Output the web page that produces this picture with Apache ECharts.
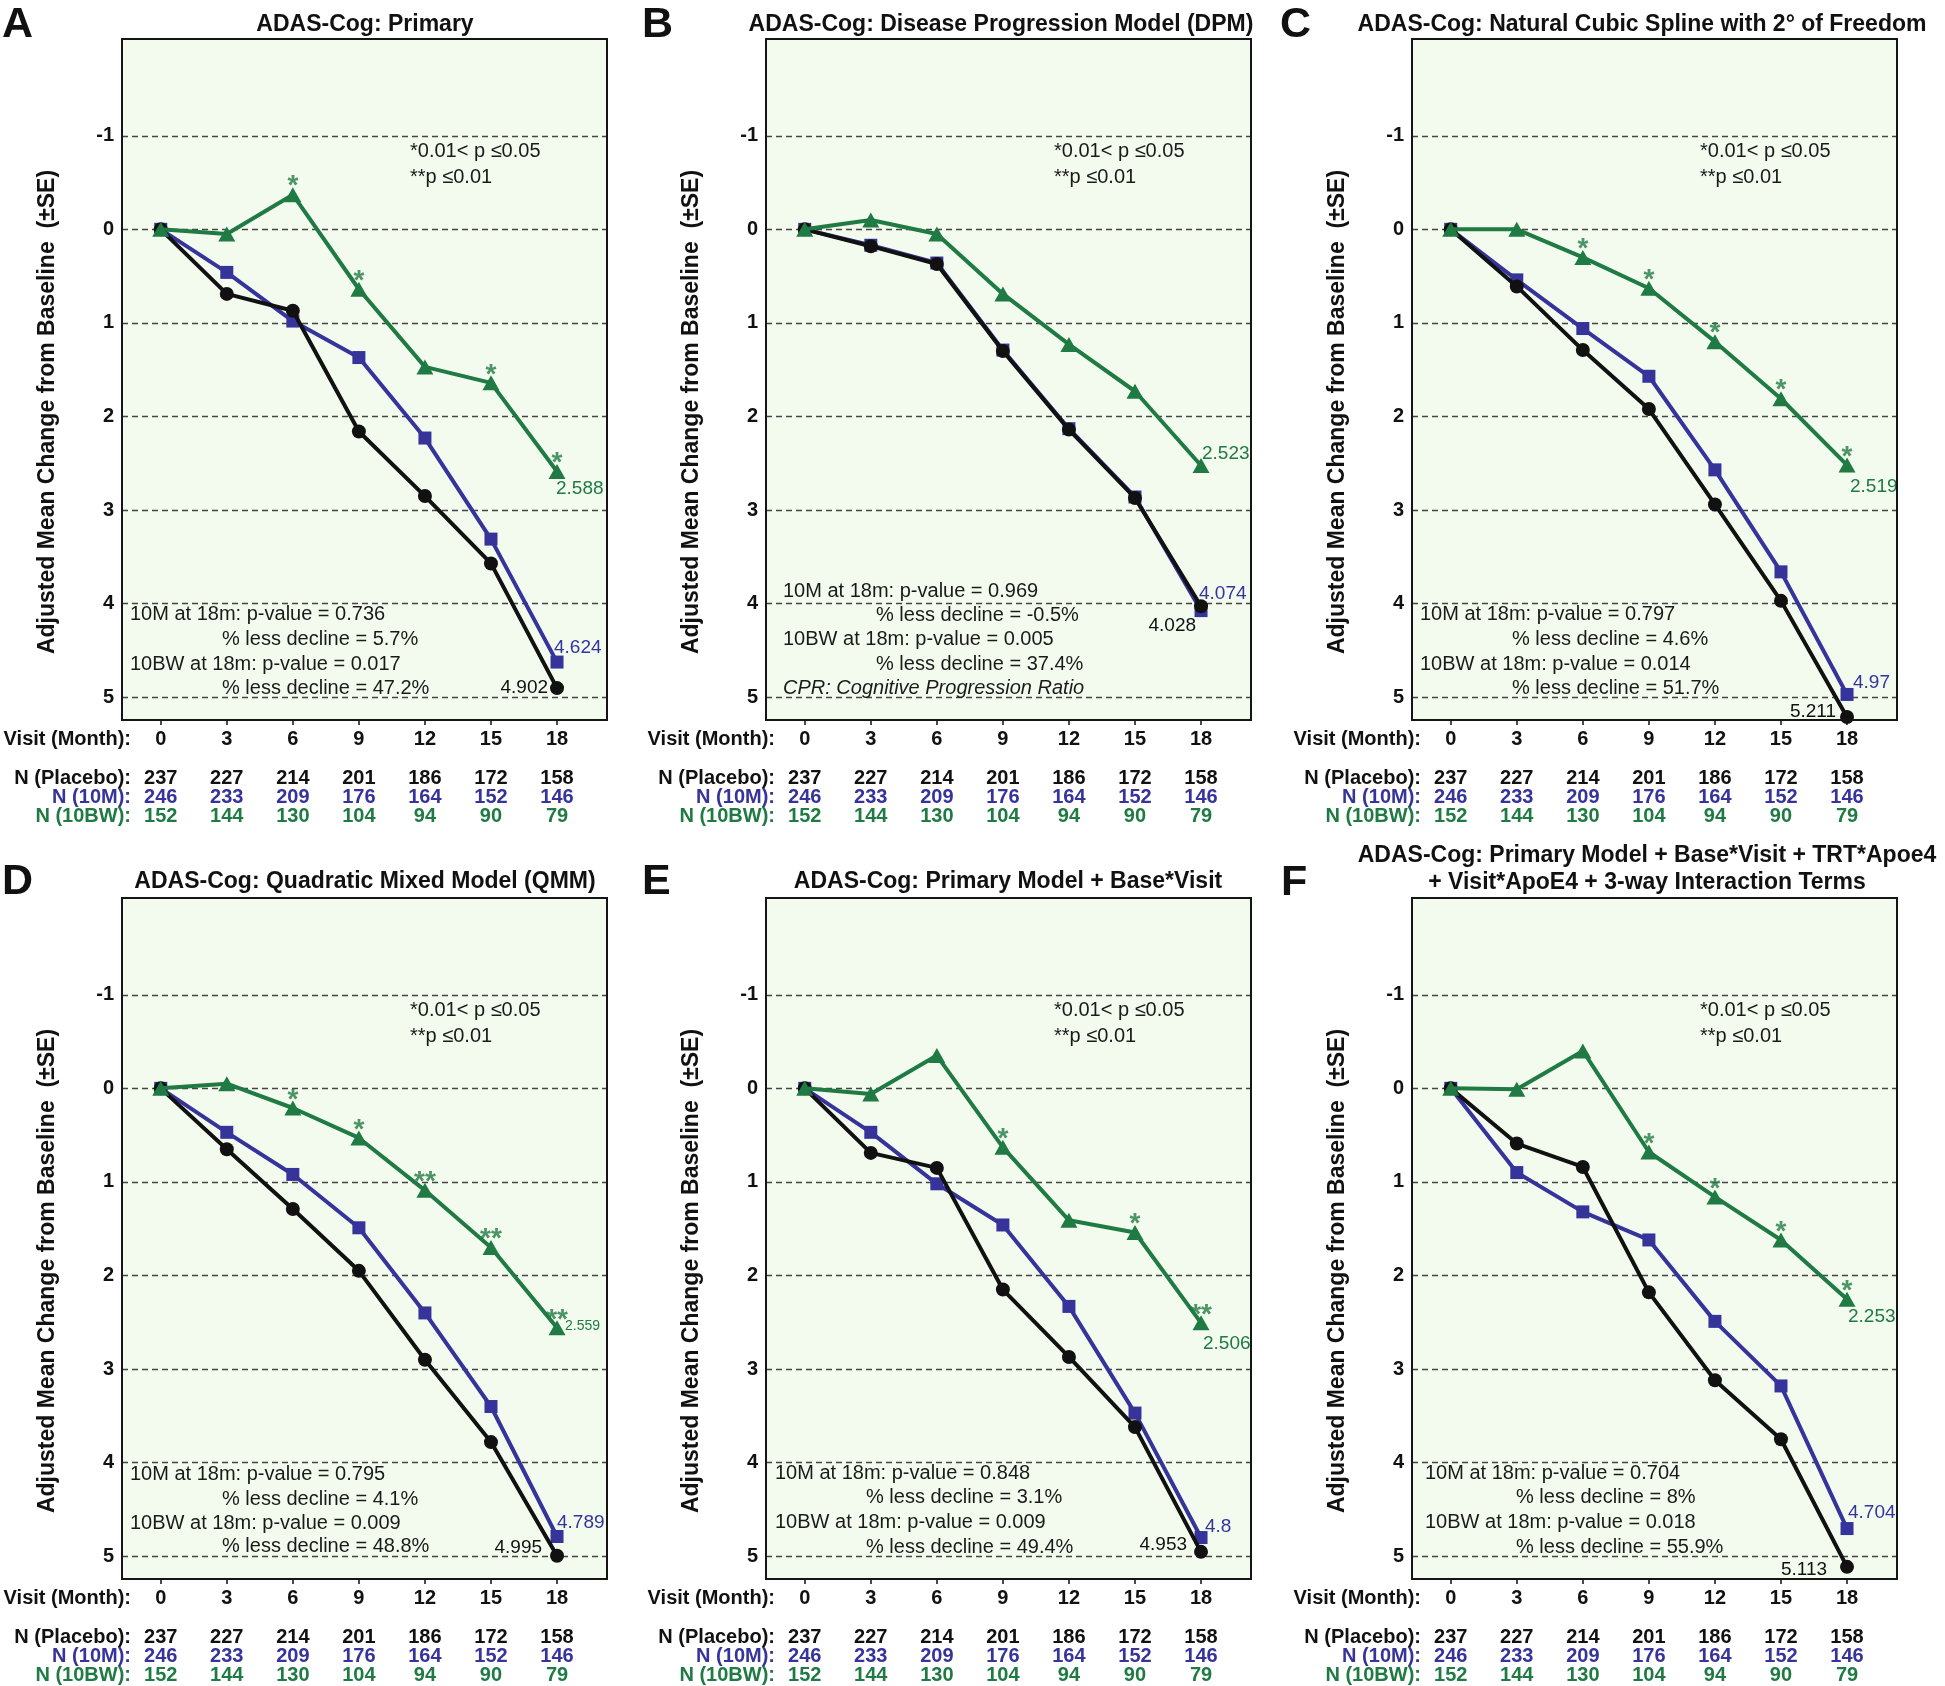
<!DOCTYPE html>
<html><head><meta charset="utf-8">
<script src="https://cdn.jsdelivr.net/npm/echarts@6/dist/echarts.min.js"></script>
<style>html,body{margin:0;padding:0;background:#fff}#c{width:1945px;height:1686px}</style>
</head><body><div id="c"></div>
<script>
// ---------------- DATA ----------------
const months = [0, 3, 6, 9, 12, 15, 18];
const yTicks = [-1, 0, 1, 2, 3, 4, 5];
const nPlacebo = [237, 227, 214, 201, 186, 172, 158];
const n10M = [246, 233, 209, 176, 164, 152, 146];
const n10BW = [152, 144, 130, 104, 94, 90, 79];

const placeboA = [0, 0.69, 0.87, 2.16, 2.85, 3.57, 4.902];
const m10A     = [0, 0.46, 0.98, 1.37, 2.23, 3.31, 4.624];
const bw10A    = [0, 0.05, -0.37, 0.64, 1.47, 1.64, 2.588];
const starsA   = ['', '', '*', '*', '', '*', '*'];

const placeboB = [0, 0.18, 0.37, 1.30, 2.14, 2.87, 4.028];
const m10B     = [0, 0.17, 0.36, 1.29, 2.13, 2.86, 4.074];
const bw10B    = [0, -0.10, 0.05, 0.69, 1.23, 1.73, 2.523];
const starsB   = ['', '', '', '', '', '', ''];

const placeboC = [0, 0.61, 1.29, 1.92, 2.94, 3.97, 5.211];
const m10C     = [0, 0.54, 1.06, 1.57, 2.57, 3.66, 4.97];
const bw10C    = [0, 0.0, 0.30, 0.63, 1.20, 1.81, 2.519];
const starsC   = ['', '', '*', '*', '*', '*', '*'];

const placeboD = [0, 0.65, 1.29, 1.95, 2.90, 3.78, 4.995];
const m10D     = [0, 0.47, 0.92, 1.49, 2.40, 3.40, 4.789];
const bw10D    = [0, -0.05, 0.21, 0.53, 1.09, 1.70, 2.559];
const starsD   = ['', '', '*', '*', '**', '**', '**'];

const placeboE = [0, 0.69, 0.85, 2.15, 2.87, 3.62, 4.953];
const m10E     = [0, 0.47, 1.02, 1.46, 2.33, 3.47, 4.8];
const bw10E    = [0, 0.06, -0.35, 0.63, 1.41, 1.54, 2.506];
const starsE   = ['', '', '', '*', '', '*', '**'];

const placeboF = [0, 0.59, 0.84, 2.18, 3.12, 3.75, 5.113];
const m10F     = [0, 0.90, 1.32, 1.62, 2.49, 3.18, 4.704];
const bw10F    = [0, 0.01, -0.40, 0.68, 1.16, 1.62, 2.253];
const starsF   = ['', '', '', '*', '*', '*', '*'];

const titleA = ['ADAS-Cog: Primary'];
const titleB = ['ADAS-Cog: Disease Progression Model (DPM)'];
const titleC = ['ADAS-Cog: Natural Cubic Spline with 2° of Freedom'];
const titleD = ['ADAS-Cog: Quadratic Mixed Model (QMM)'];
const titleE = ['ADAS-Cog: Primary Model + Base*Visit'];
const titleF = ['ADAS-Cog: Primary Model + Base*Visit + TRT*Apoe4', '+ Visit*ApoE4 + 3-way Interaction Terms'];

const notesA = ['10M at 18m: p-value = 0.736', '% less decline = 5.7%', '10BW at 18m: p-value = 0.017', '% less decline = 47.2%'];
const notesB = ['10M at 18m: p-value = 0.969', '% less decline = -0.5%', '10BW at 18m: p-value = 0.005', '% less decline = 37.4%', 'CPR: Cognitive Progression Ratio'];
const notesC = ['10M at 18m: p-value = 0.797', '% less decline = 4.6%', '10BW at 18m: p-value = 0.014', '% less decline = 51.7%'];
const notesD = ['10M at 18m: p-value = 0.795', '% less decline = 4.1%', '10BW at 18m: p-value = 0.009', '% less decline = 48.8%'];
const notesE = ['10M at 18m: p-value = 0.848', '% less decline = 3.1%', '10BW at 18m: p-value = 0.009', '% less decline = 49.4%'];
const notesF = ['10M at 18m: p-value = 0.704', '% less decline = 8%', '10BW at 18m: p-value = 0.018', '% less decline = 55.9%'];

const sigLegend = ['*0.01< p \u22640.05', '**p \u22640.01'];
const yName = 'Adjusted Mean Change from Baseline  (\u00b1SE)';
const rowHeaders = ['Visit (Month):', 'N (Placebo):', 'N (10M):', 'N (10BW):'];

// ---------------- STYLE / LAYOUT ----------------
const FONT = '"Liberation Sans", Arial, Helvetica, sans-serif';
const C_PL = '#111111', C_M = '#36339b', C_BW = '#1f7a43';
const BG = '#f3fbee';
const colLeft = [122, 766, 1412];
const rowTop = [39, 898];
const PW = 485, PH = 681;
const X_MIN = -1.76, X_MAX = 20.27, Y_MIN = -2.034, Y_MAX = 5.243;

const panels = [
  {letter:'A', col:0, row:0, title:titleA, titleX:365, titleY:[25], letterX:2,
   pl:placeboA, m:m10A, bw:bw10A, stars:starsA, notes:notesA, noteX:8, indentX:100, noteY:[575,600,625,649],
   lab:{bw:['left',-1,17.6,19], m:['left',-3,-14,19], pl:['right',-9,0,19]}},
  {letter:'B', col:1, row:0, title:titleB, titleX:1001, titleY:[25], letterX:642,
   pl:placeboB, m:m10B, bw:bw10B, stars:starsB, notes:notesB, noteX:17, indentX:110, noteY:[552,576,600,625,649],
   lab:{bw:['left',1,-12,19], m:['left',-2,-17,19], pl:['right',-5,19,19]}},
  {letter:'C', col:2, row:0, title:titleC, titleX:1642, titleY:[25], letterX:1280,
   pl:placeboC, m:m10C, bw:bw10C, stars:starsC, notes:notesC, noteX:8, indentX:100, noteY:[575,600,625,649],
   lab:{bw:['left',3,22,19], m:['left',6,-12,19], pl:['right',-11,-5,19]}},
  {letter:'D', col:0, row:1, title:titleD, titleX:365, titleY:[882], letterX:2,
   pl:placeboD, m:m10D, bw:bw10D, stars:starsD, notes:notesD, noteX:8, indentX:100, noteY:[576,601,625,648],
   lab:{bw:['left',8,-2,14], m:['left',0,-14,19], pl:['right',-15,-8,19]}},
  {letter:'E', col:1, row:1, title:titleE, titleX:1008, titleY:[882], letterX:642,
   pl:placeboE, m:m10E, bw:bw10E, stars:starsE, notes:notesE, noteX:9, indentX:100, noteY:[575,599,624,649],
   lab:{bw:['left',2,21,19], m:['left',4,-11,19], pl:['right',-14,-7,19]}},
  {letter:'F', col:2, row:1, title:titleF, titleX:1647, titleY:[856,883], letterX:1281,
   pl:placeboF, m:m10F, bw:bw10F, stars:starsF, notes:notesF, noteX:13, indentX:104, noteY:[575,599,624,649],
   lab:{bw:['left',1,17.5,19], m:['left',1,-16,19], pl:['right',-20,2.5,19]}}
];

const nRows = [
  {vals:nPlacebo, color:C_PL, offset:39},
  {vals:n10M, color:C_M, offset:58},
  {vals:n10BW, color:C_BW, offset:77}
];
const headerDy = [19, 58, 77, 96];
const headerColors = [C_PL, C_PL, C_M, C_BW];

function txt(x, y, text, opts) {
  opts = opts || {};
  return {type:'text', x:x, y:y, rotation: opts.rotation || 0, z: 50, silent:true,
    style:{text:text, fill: opts.color || '#1a1a1a',
      font: (opts.style || 'normal') + ' ' + (opts.weight || 'normal') + ' ' + (opts.size || 20) + 'px ' + FONT,
      align: opts.align || 'left', verticalAlign: 'middle'}};
}

function mkData(vals, lab, color) {
  const last = vals.length - 1;
  return vals.map((v, i) => i === last ? {
    value:[months[i], v],
    label:{show:true, formatter:String(v), position:'inside', align:lab[0], verticalAlign:'middle',
           offset:[lab[1], lab[2]], color:color, fontSize:lab[3], fontFamily:FONT}
  } : [months[i], v]);
}

const option = {animation:false, grid:[], xAxis:[], yAxis:[], series:[], graphic:[]};

panels.forEach((p, g) => {
  const left = colLeft[p.col], top = rowTop[p.row], bottom = top + PH;
  option.grid.push({left:left, top:top, width:PW, height:PH, show:true, backgroundColor:BG,
    borderWidth:0, containLabel:false, outerBoundsMode:'none'});
  option.xAxis.push({type:'value', gridIndex:g, min:X_MIN, max:X_MAX, position:'bottom',
    axisLine:{show:false, onZero:false}, splitLine:{show:false},
    axisTick:{show:true, customValues:months, length:5, lineStyle:{color:'#111', width:1.5}},
    axisLabel:{customValues:months, color:'#111', fontSize:20, fontWeight:'bold', fontFamily:FONT, margin:9}});
  nRows.forEach(r => option.xAxis.push({type:'value', gridIndex:g, min:X_MIN, max:X_MAX, position:'bottom',
    offset:r.offset, axisLine:{show:false, onZero:false}, splitLine:{show:false}, axisTick:{show:false},
    axisLabel:{customValues:months, formatter:(v) => String(r.vals[months.indexOf(v)]),
      color:r.color, fontSize:20, fontWeight:'bold', fontFamily:FONT, margin:9}}));
  option.yAxis.push({type:'value', gridIndex:g, inverse:true, min:Y_MIN, max:Y_MAX,
    axisLine:{show:false, onZero:false}, axisTick:{show:false, customValues:yTicks},
    splitLine:{show:true, lineStyle:{color:'#444444', width:1.4, type:[6,4]}},
    axisLabel:{customValues:yTicks, formatter:(v) => String(v), color:'#111',
      fontSize:20, fontWeight:'bold', fontFamily:FONT, margin:8}});

  const xi = 4 * g;
  const common = {xAxisIndex:xi, yAxisIndex:g, silent:true, emphasis:{disabled:true}, showSymbol:true, label:{show:false}};
  option.series.push(Object.assign({type:'line', name:'10M', data:mkData(p.m, p.lab.m, C_M),
    symbol:'rect', symbolSize:13, lineStyle:{color:C_M, width:4}, itemStyle:{color:C_M}, z:2}, common));
  option.series.push(Object.assign({type:'line', name:'Placebo', data:mkData(p.pl, p.lab.pl, C_PL),
    symbol:'circle', symbolSize:14, lineStyle:{color:C_PL, width:4}, itemStyle:{color:C_PL}, z:3}, common));
  option.series.push(Object.assign({type:'line', name:'10BW', data:mkData(p.bw, p.lab.bw, C_BW),
    symbol:'triangle', symbolSize:[17,15], lineStyle:{color:C_BW, width:4}, itemStyle:{color:C_BW}, z:4}, common));
  option.series.push({type:'scatter', name:'sig', xAxisIndex:xi, yAxisIndex:g, silent:true, z:5,
    emphasis:{disabled:true}, symbolSize:1, itemStyle:{color:'rgba(0,0,0,0)'},
    data:months.map((m, i) => [m, p.bw[i]]),
    label:{show:true, position:'inside', offset:[0,-8], formatter:(prm) => p.stars[prm.dataIndex],
      color:C_BW, fontSize:28, fontWeight:'bold', fontFamily:FONT}});

  // border on top
  option.graphic.push({type:'rect', z:100, silent:true, shape:{x:left, y:top, width:PW, height:PH},
    style:{fill:'none', stroke:'#151515', lineWidth:2}});
  // panel letter
  option.graphic.push(txt(p.letterX, p.titleY[p.titleY.length - 1], p.letter, {weight:'bold', size:43, color:'#111'}));
  // title
  p.title.forEach((t, i) => option.graphic.push(txt(p.titleX, p.titleY[i], t, {weight:'bold', size:23, align:'center', color:'#111'})));
  // y axis name
  option.graphic.push(txt(left - 74, top + 373, yName, {weight:'bold', size:23, align:'center', rotation:Math.PI/2, color:'#111'}));
  // significance legend
  sigLegend.forEach((t, i) => option.graphic.push(txt(left + 288, top + (i ? 138 : 112.5), t, {size:20, color:'#1a1a1a'})));
  // notes block
  p.notes.forEach((t, i) => {
    const isIndent = t.charAt(0) === '%';
    const isCpr = t.indexOf('CPR') === 0;
    option.graphic.push(txt(left + (isIndent ? p.indentX : p.noteX), top + p.noteY[i], t,
      {size:20, color:'#1a1a1a', style: isCpr ? 'italic' : 'normal'}));
  });
  // row headers
  rowHeaders.forEach((t, i) => option.graphic.push(txt(left + 9, bottom + headerDy[i], t,
    {weight:'bold', size:20, align:'right', color:headerColors[i]})));
});

const chart = echarts.init(document.getElementById('c'), null, {renderer:'canvas', width:1945, height:1686});
chart.setOption(option);
</script>
</body></html>
